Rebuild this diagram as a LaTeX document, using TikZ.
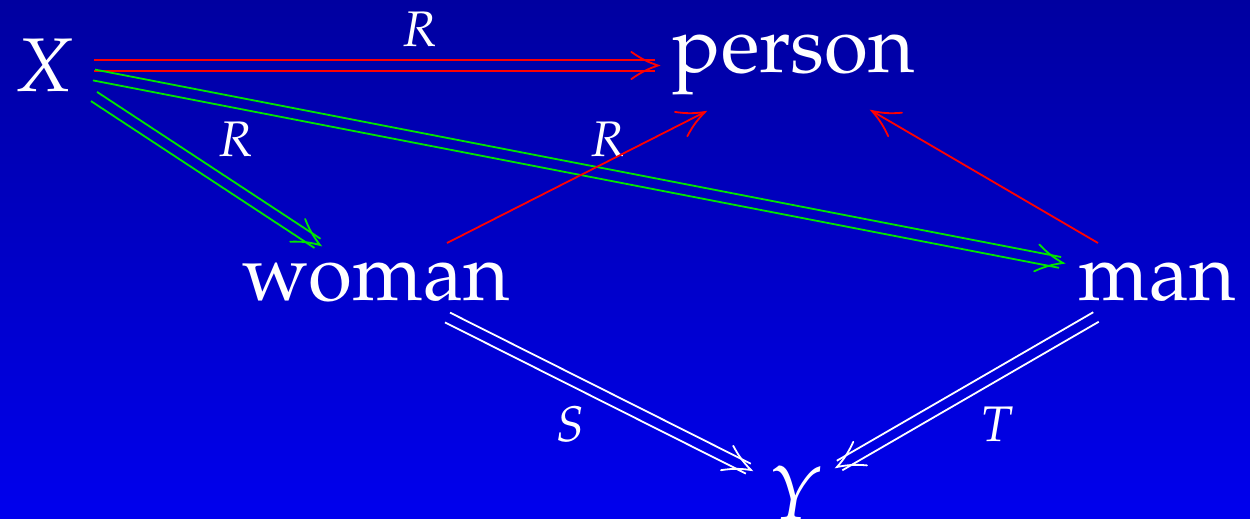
\documentclass[tikz,border=0pt]{standalone}
\usepackage[T1]{fontenc}
\usepackage{mathpazo}
\usetikzlibrary{calc}
\definecolor{bgtop}{RGB}{0,0,160}
\definecolor{bgbot}{RGB}{0,0,238}
\definecolor{arred}{RGB}{255,0,0}
\definecolor{argreen}{RGB}{0,230,0}
\newlength\dblhalf
\setlength\dblhalf{2.75pt}
\newcommand\tipmark[3]{%
  \draw[#1,line cap=round] ($(#3)!15pt!27:(#2)$) to[bend left=8] (#3) to[bend left=8] ($(#3)!15pt!-27:(#2)$);
}
\newcommand\dblarrow[3]{%
  \coordinate (da-e) at ($(#3)!1.5pt!(#2)$);
  \draw[#1] ($(#2)!\dblhalf!90:(#3)$) -- ($(da-e)!\dblhalf!-90:(#2)$);
  \draw[#1] ($(#2)!\dblhalf!-90:(#3)$) -- ($(da-e)!\dblhalf!90:(#2)$);
  \tipmark{#1}{#2}{#3}
}
\newcommand\sglarrow[3]{%
  \draw[#1] (#2) -- (#3);
  \tipmark{#1}{#2}{#3}
}
\tikzset{
  word/.style={text=white, anchor=base, inner sep=0pt, font=\fontsize{40}{48}\selectfont},
  lbl/.style={text=white, anchor=base, inner sep=0pt, font=\fontsize{25}{30}\selectfont\itshape},
  redar/.style={draw=arred, line width=0.9pt},
  greenar/.style={draw=argreen, line width=0.9pt},
  whitear/.style={draw=white, line width=0.9pt},
}
\begin{document}
\begin{tikzpicture}[x=0.5pt, y=-0.5pt]
  \shade[top color=bgtop, bottom color=bgbot] (0,0) rectangle (1250,519);
  \useasboundingbox (0,0) rectangle (1250,519);

  \node[word, font=\fontsize{38}{46}\selectfont\itshape] (X) at (44,92) {X};
  \node[word] (person) at (794,73) {person};
  \node[word] (woman) at (376,300) {woman};
  \node[word] (man) at (1157,300) {man};
  \node[word, font=\fontsize{38}{46}\selectfont\itshape] (Y) at (795,519) {Y};

  \node[lbl] (r1) at (420,47) {R};
  \node[lbl] (r2) at (236,157) {R};
  \node[lbl] (r3) at (608,157) {R};
  \node[lbl] (s) at (570,442) {S};
  \node[lbl] (t) at (997,442) {T};

  % connector end points
  \coordinate (X-p) at (94,65.5);
  \coordinate (person-X) at (658,65.5);
  \coordinate (X-w) at (94,96.5);
  \coordinate (woman-X) at (320,245);
  \coordinate (X-m) at (94,75);
  \coordinate (man-X) at (1063,263);
  \coordinate (woman-p) at (447,243);
  \coordinate (person-w) at (705,112);
  \coordinate (man-p) at (1098,243);
  \coordinate (person-m) at (872,111);
  \coordinate (woman-Y) at (447.5,317.5);
  \coordinate (Y-w) at (751,470);
  \coordinate (man-Y) at (1096,317);
  \coordinate (Y-m) at (837,467);

  \dblarrow{redar}{X-p}{person-X}
  \dblarrow{greenar}{X-w}{woman-X}
  \dblarrow{greenar}{X-m}{man-X}
  \sglarrow{redar}{woman-p}{person-w}
  \sglarrow{redar}{man-p}{person-m}
  \dblarrow{whitear}{woman-Y}{Y-w}
  \dblarrow{whitear}{man-Y}{Y-m}
\end{tikzpicture}
\end{document}
